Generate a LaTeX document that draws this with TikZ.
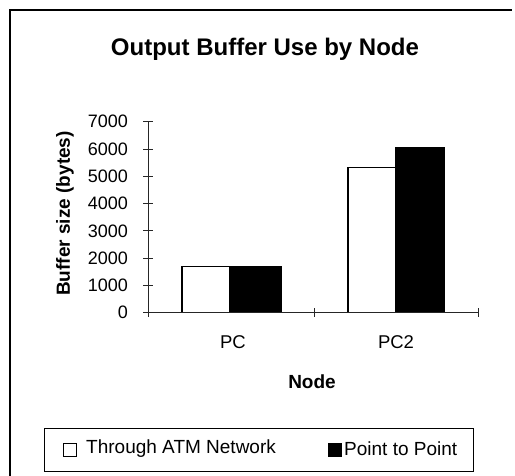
\documentclass[tikz,border=0pt]{standalone}
\usepackage{fontspec}
\setmainfont{Liberation Sans}
\begin{document}
\begin{tikzpicture}[x=1pt,y=-1pt,
  frame/.style={line width=1.6pt,black},
  axisline/.style={line width=0.9pt,black!85},
  tickline/.style={line width=0.8pt,black!85},
  whitebar/.style={draw=black,fill=white,line width=1.4pt},
  blackbar/.style={draw=black,fill=black,line width=1.4pt},
  ticklabel/.style={font=\fontsize{18}{18}\selectfont,anchor=east,inner sep=0pt},
  catlabel/.style={font=\fontsize{18.5}{18.5}\selectfont,inner sep=0pt},
  titlestyle/.style={font=\fontsize{24}{24}\selectfont\bfseries,inner sep=0pt},
  axistitle/.style={font=\fontsize{19}{19}\selectfont\bfseries,inner sep=0pt},
  legendtext/.style={font=\fontsize{19}{19}\selectfont,anchor=west,inner sep=0pt},
  legendbox/.style={draw=black,line width=0.8pt},
]
\useasboundingbox (0,0) rectangle (515,476);
% outer frame
\draw[frame] (10,476) -- (10,10) -- (512,10);
% title
\node[titlestyle] (title) at (265,49) {Output Buffer Use by Node};
% bars
\draw[whitebar] (182,312.7) rectangle (230,266.8);
\draw[blackbar] (230,312.7) rectangle (281,266.8);
\draw[whitebar] (348,312.7) rectangle (396,167.7);
\draw[blackbar] (396,312.7) rectangle (444,147.7);
% axes
\draw[axisline] (148,312.7) -- (148,121.7);
\draw[axisline] (148,312.7) -- (478,312.7);
\foreach \v/\n in {0/t0,1000/t1,2000/t2,3000/t3,4000/t4,5000/t5,6000/t6,7000/t7}{
  \pgfmathsetmacro{\yy}{312.7-\v*0.02729}
  \draw[tickline] (143,\yy) -- (153,\yy);
  \node[ticklabel] (\n) at (128,\yy) {\v};
}
\foreach \xx in {148,314,478}{
  \draw[tickline] (\xx,308.5) -- (\xx,317);
}
% category labels
\node[catlabel] (pc) at (233,342) {PC};
\node[catlabel] (pc2) at (396,342) {PC2};
% axis titles
\node[axistitle] (xt) at (312,382) {Node};
\node[axistitle,rotate=90] (yt) at (65,213.5) {Buffer size (bytes)};
% legend
\draw[legendbox] (44,428) rectangle (473,471);
\draw[line width=1.3pt,draw=black,fill=white] (63.5,443.5) rectangle (76.5,456.5);
\node[legendtext] (l1) at (86,449) {Through ATM Network};
\draw[line width=1.3pt,draw=black,fill=black] (328.5,443.5) rectangle (341,456.5);
\node[legendtext] (l2) at (344,449) {Point to Point};
\end{tikzpicture}
\end{document}
